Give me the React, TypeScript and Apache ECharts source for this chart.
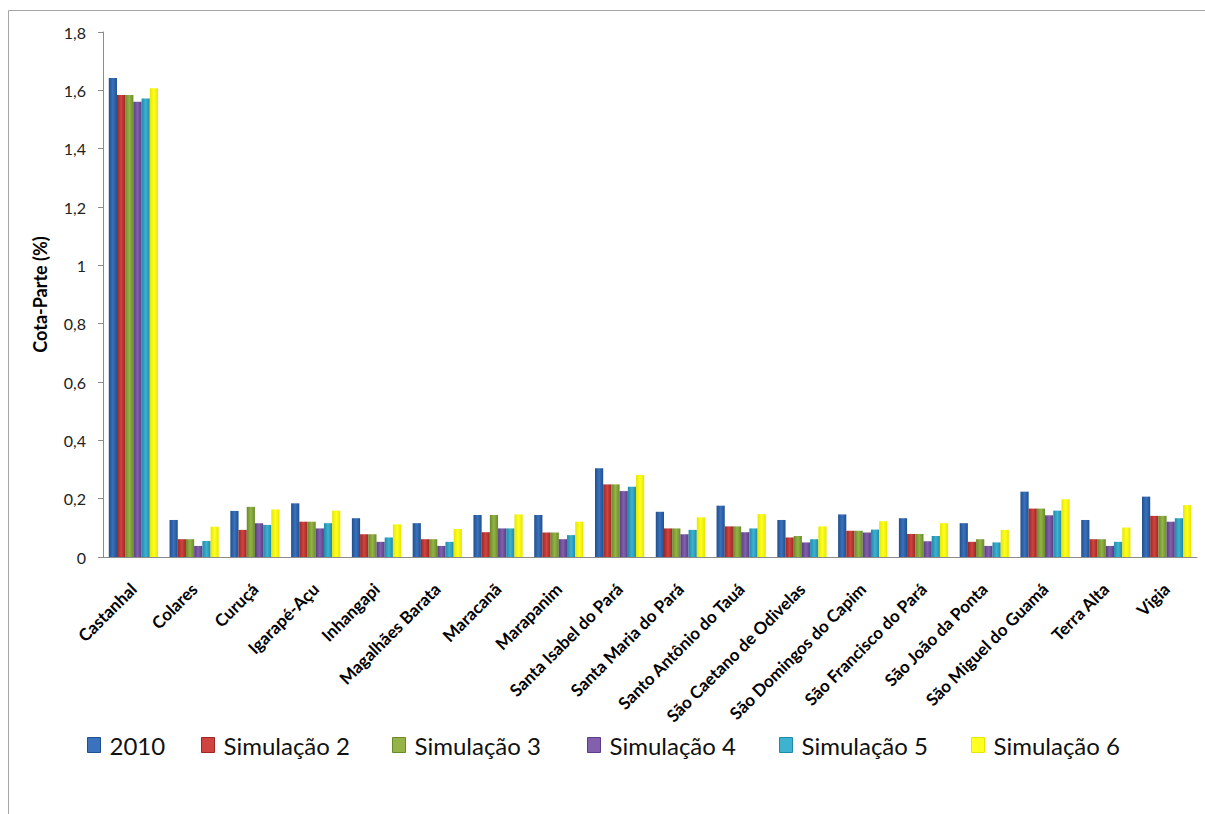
import React, { useEffect, useRef } from "react";
import * as echarts from "echarts";

const categories = [
  "Castanhal", "Colares", "Curuçá", "Igarapé-Açu", "Inhangapi", "Magalhães Barata",
  "Maracanã", "Marapanim", "Santa Isabel do Pará", "Santa Maria do Pará",
  "Santo Antônio do Tauá", "São Caetano de Odivelas", "São Domingos do Capim",
  "São Francisco do Pará", "São João da Ponta", "São Miguel do Guamá", "Terra Alta", "Vigia",
];

const s2010 = [1.642, 0.127, 0.158, 0.184, 0.133, 0.116, 0.144, 0.144, 0.304, 0.155, 0.176, 0.127, 0.146, 0.133, 0.116, 0.224, 0.127, 0.207];
const sim2 = [1.584, 0.061, 0.093, 0.121, 0.078, 0.061, 0.085, 0.084, 0.249, 0.098, 0.105, 0.067, 0.090, 0.079, 0.052, 0.166, 0.061, 0.141];
const sim3 = [1.584, 0.061, 0.172, 0.121, 0.078, 0.061, 0.144, 0.084, 0.249, 0.098, 0.105, 0.072, 0.090, 0.079, 0.061, 0.166, 0.061, 0.141];
const sim4 = [1.561, 0.038, 0.116, 0.098, 0.052, 0.038, 0.098, 0.061, 0.226, 0.078, 0.085, 0.050, 0.084, 0.054, 0.038, 0.143, 0.038, 0.121];
const sim5 = [1.572, 0.055, 0.110, 0.116, 0.067, 0.052, 0.098, 0.075, 0.241, 0.093, 0.098, 0.061, 0.094, 0.072, 0.050, 0.159, 0.052, 0.133];
const sim6 = [1.607, 0.104, 0.163, 0.159, 0.112, 0.096, 0.146, 0.121, 0.281, 0.136, 0.147, 0.105, 0.123, 0.116, 0.093, 0.198, 0.101, 0.178];

const seriesNames = ["2010", "Simulação 2", "Simulação 3", "Simulação 4", "Simulação 5", "Simulação 6"];
const seriesData = [s2010, sim2, sim3, sim4, sim5, sim6];
const colors = [
  ["#1f4f8f", "#3a72bd"],
  ["#9e2622", "#cf4440"],
  ["#6a8a2a", "#94b447"],
  ["#5a3d86", "#8260ad"],
  ["#1f8aa8", "#3db2d1"],
  ["#e6e600", "#ffff20"],
];
const legendLefts = [87, 201, 392, 587, 779, 971];

export default function App() {
  const ref = useRef<HTMLDivElement>(null);
  useEffect(() => {
    if (!ref.current) return;
    const chart = echarts.init(ref.current, null, { renderer: "svg" });
    const grad = (c: string[]) =>
      new echarts.graphic.LinearGradient(0, 0, 1, 0, [
        { offset: 0, color: c[0] },
        { offset: 0.5, color: c[1] },
        { offset: 1, color: c[0] },
      ]);
    chart.setOption({
      animation: false,
      backgroundColor: "#ffffff",
      textStyle: { fontFamily: "Lato" },
      graphic: [
        {
          type: "rect",
          shape: { x: 8.5, y: 10.5, width: 1300, height: 900 },
          style: { fill: "none", stroke: "#a6a6a6", lineWidth: 1 },
          silent: true,
        },
      ],
      legend: seriesNames.map((n, i) => ({
        data: [n],
        left: legendLefts[i],
        top: 733,
        padding: 0,
        itemWidth: 13,
        itemHeight: 15,
        itemGap: 6,
        icon: "rect",
        itemStyle: { color: colors[i][1], borderColor: colors[i][0], borderWidth: 1 },
        textStyle: { fontSize: 24, color: "#111", fontFamily: "Lato", padding: [0, 0, 0, 4] },
      })),
      grid: { left: 103, right: 8, top: 32, bottom: 257, containLabel: false },
      xAxis: {
        type: "category",
        data: categories,
        axisLine: { lineStyle: { color: "#8c8c8c" } },
        axisTick: { alignWithLabel: false, length: 5, lineStyle: { color: "#8c8c8c" } },
        axisLabel: {
          rotate: 45,
          interval: 0,
          fontSize: 17,
          fontWeight: "bold",
          color: "#000",
          margin: 29,
          fontFamily: "Lato",
        },
      },
      yAxis: {
        type: "value",
        min: 0,
        max: 1.8,
        interval: 0.2,
        name: "Cota-Parte (%)",
        nameLocation: "middle",
        nameRotate: 90,
        nameGap: 54,
        nameTextStyle: { fontSize: 18, fontWeight: "bold", color: "#000", fontFamily: "Lato" },
        axisLine: { show: true, lineStyle: { color: "#8c8c8c" } },
        axisTick: { show: true, length: 5, lineStyle: { color: "#8c8c8c" } },
        splitLine: { show: false },
        axisLabel: {
          fontSize: 16,
          color: "#222",
          margin: 17,
          fontFamily: "Lato",
          formatter: (v: number) => String(Math.round(v * 10) / 10).replace(".", ","),
        },
      },
      series: seriesNames.map((n, i) => ({
        name: n,
        type: "bar",
        data: seriesData[i],
        barGap: "0%",
        barCategoryGap: "19%",
        itemStyle: { color: grad(colors[i]) },
      })),
    });
    return () => chart.dispose();
  }, []);
  return (
    <div
      ref={ref}
      style={{ position: "fixed", left: 0, top: 0, width: 1205, height: 814 }}
    />
  );
}
